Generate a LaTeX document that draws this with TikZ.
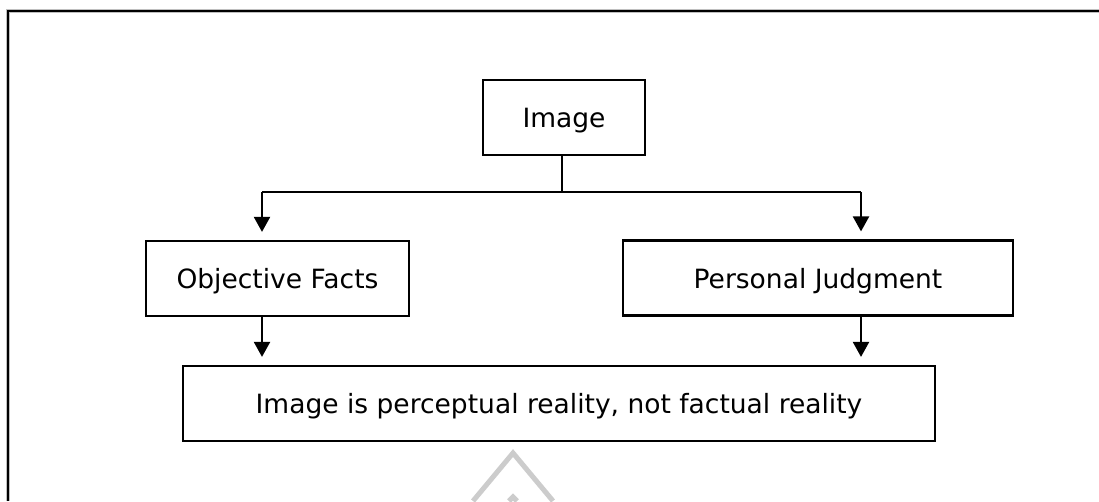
\documentclass[tikz,border=0pt]{standalone}
\usepackage{fontspec}
\setmainfont{DejaVu Sans}
\usetikzlibrary{arrows.meta}
\begin{document}
\begin{tikzpicture}[x=1pt,y=-1pt,
  box/.style={draw, line width=2.2pt, minimum height=75pt, inner sep=0pt,
    text depth=0pt, font=\fontsize{26.5}{30}\selectfont},
  link/.style={line width=2.2pt},
  arr/.style={line width=2.2pt, -{Triangle[length=15pt,width=16pt]}, shorten >=8pt},
  emblem/.style={line width=5pt, draw=black!20, line cap=butt}]
\useasboundingbox (0,0) rectangle (1099,501);
\fill[white] (0,0) rectangle (1099,501);

% outer frame (left and top edges)
\draw[line width=3.8pt, black!25] (8,501) -- (8,11) -- (1099,11);
\draw[line width=2.8pt] (8,501) -- (8,11) -- (1099,11);

% faint emblem at the bottom
\draw[emblem] (473,501) -- (513,453) -- (553,501);
\draw[emblem] (509,501) -- (513,497) -- (517,501);

% boxes
\node[box, minimum width=162pt] (img) at (564,117.5) {Image};
\node[box, minimum width=263pt] (obj) at (277.5,278.5) {Objective Facts};
\node[box, minimum width=390pt] (pj) at (818,278) {Personal Judgment};
\node[box, minimum width=752pt] (bot) at (559,403.5) {Image is perceptual reality, not factual reality};

% branch points
\coordinate (fork) at (562,192);
\coordinate (lx) at (262,192);
\coordinate (rx) at (861,192);

% connectors
\draw[link] (img.south -| fork) -- (fork);
\draw[link] (lx) -- (rx);
\draw[arr] (lx) -- (obj.north -| lx);
\draw[arr] (rx) -- (pj.north -| rx);
\draw[arr] (obj.south -| lx) -- (bot.north -| lx);
\draw[arr] (pj.south -| rx) -- (bot.north -| rx);
\end{tikzpicture}
\end{document}
